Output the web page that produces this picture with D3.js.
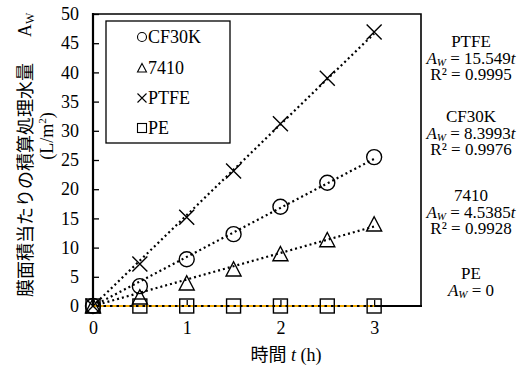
<!DOCTYPE html>
<html>
<head>
<meta charset="utf-8">
<script src="https://cdn.jsdelivr.net/npm/d3@7"></script>
<style>
  body { margin: 0; background: #fff; }
  svg { display: block; }
  .serif { font-family: "Liberation Serif", "DejaVu Serif", serif; }
  .jp { font-family: "Noto Sans CJK JP", sans-serif; }
</style>
</head>
<body>
<svg id="chart" width="525" height="367"></svg>
<script>
// time (h)
var hours = [0, 0.5, 1, 1.5, 2, 2.5, 3];
// cumulative treated water per membrane area (L/m2)
var cf30k = [0, 3.4, 8.0, 12.3, 17.0, 21.1, 25.5];
var s7410 = [0, 1.5, 3.9, 6.3, 8.9, 11.3, 14.0];
var ptfe  = [0, 7.2, 15.2, 23.1, 31.2, 39.0, 46.9];
var pe    = [0, 0, 0, 0, 0, 0, 0];
// fitted slopes (A_W = k t)
var slopes = { CF30K: 8.3993, '7410': 4.5385, PTFE: 15.549, PE: 0 };
var rSquared = { CF30K: '0.9976', '7410': '0.9928', PTFE: '0.9995' };
var yTicks = [0, 5, 10, 15, 20, 25, 30, 35, 40, 45, 50];
var xTicks = [0, 1, 2, 3];

var series = [
  { name: 'CF30K', values: cf30k, shape: 'circle' },
  { name: '7410', values: s7410, shape: 'triangle' },
  { name: 'PTFE', values: ptfe, shape: 'cross' },
  { name: 'PE', values: pe, shape: 'square' }
];

var svg = d3.select('#chart');
var pL = 93, pR = 421, pT = 14, pB = 306;

var x = d3.scaleLinear().domain([0, 3.5]).range([pL, pR]);
var y = d3.scaleLinear().domain([0, 50]).range([pB, pT]);

// frame (top & right)
svg.append('path')
  .attr('d', 'M' + pL + ',' + pT + 'H' + pR + 'V' + pB)
  .attr('fill', 'none').attr('stroke', '#000').attr('stroke-width', 1.6);

// y axis
var gy = svg.append('g').attr('transform', 'translate(' + pL + ',0)')
  .call(d3.axisLeft(y).tickValues(yTicks).tickSize(-6).tickPadding(14).tickFormat(d3.format('d')));
gy.select('.domain').remove();
gy.selectAll('line').attr('stroke', '#000').attr('stroke-width', 1.3);
gy.selectAll('text').attr('class', 'serif').attr('font-size', 18).attr('fill', '#000');

// x axis
var gx = svg.append('g').attr('transform', 'translate(0,' + pB + ')')
  .call(d3.axisBottom(x).tickValues(xTicks).tickSize(-6).tickPadding(15).tickFormat(d3.format('d')));
gx.select('.domain').remove();
gx.selectAll('line').attr('stroke', '#000').attr('stroke-width', 1.3);
gx.selectAll('text').attr('class', 'serif').attr('font-size', 18).attr('fill', '#000');

// axis lines
svg.append('line').attr('x1', pL).attr('x2', pL).attr('y1', pT - 1).attr('y2', pB + 1)
  .attr('stroke', '#000').attr('stroke-width', 2.2);
svg.append('line').attr('x1', pL).attr('x2', pR + 1).attr('y1', pB).attr('y2', pB)
  .attr('stroke', '#000').attr('stroke-width', 2.2);

// trend lines
var tEnd = hours[hours.length - 1];
series.forEach(function(s){
  var k = slopes[s.name];
  var isPE = s.name === 'PE';
  svg.append('line')
    .attr('x1', x(0)).attr('y1', y(0))
    .attr('x2', x(tEnd)).attr('y2', y(k * tEnd))
    .attr('stroke', isPE ? '#F2A900' : '#000')
    .attr('stroke-width', isPE ? 2 : 2.2)
    .attr('stroke-dasharray', isPE ? '4,2.5' : '2,3');
});

// markers
function addMarker(g, shape, cx, cy, sz){
  var h = sz / 2;
  var p;
  if(shape === 'circle'){
    p = g.append('circle').attr('cx', cx).attr('cy', cy).attr('r', h);
  } else if(shape === 'triangle'){
    p = g.append('path').attr('d', 'M' + cx + ',' + (cy - h) + 'L' + (cx + h) + ',' + (cy + h * 0.9) + 'L' + (cx - h) + ',' + (cy + h * 0.9) + 'Z');
  } else if(shape === 'cross'){
    p = g.append('path').attr('d', 'M' + (cx - h) + ',' + (cy - h) + 'L' + (cx + h) + ',' + (cy + h) + 'M' + (cx + h) + ',' + (cy - h) + 'L' + (cx - h) + ',' + (cy + h));
  } else {
    p = g.append('rect').attr('x', cx - h).attr('y', cy - h).attr('width', sz).attr('height', sz);
  }
  p.attr('fill', 'none').attr('stroke', '#000');
  return p;
}

var gm = svg.append('g');
series.forEach(function(s){
  s.values.forEach(function(v, i){
    addMarker(gm, s.shape, x(hours[i]), y(v), s.shape === 'square' ? 14 : 15).attr('stroke-width', 1.4);
  });
});

// legend
var lg = svg.append('g');
lg.append('rect').attr('x', 106).attr('y', 21).attr('width', 124).attr('height', 122)
  .attr('fill', '#fff').attr('stroke', '#000').attr('stroke-width', 1.3);
var legendY = [37, 68, 98, 128];
series.forEach(function(s, i){
  addMarker(lg, s.shape, 142, legendY[i], 9).attr('stroke-width', 1.1);
  lg.append('text').attr('class', 'serif').attr('x', 148).attr('y', legendY[i] + 6)
    .attr('font-size', 18).text(s.name);
});

// fitted equations at right
var notes = [
  { name: 'PTFE', y: 47 },
  { name: 'CF30K', y: 122 },
  { name: '7410', y: 201 },
  { name: 'PE', y: 279 }
];
var cxNote = 471;
notes.forEach(function(n){
  var g = svg.append('g').attr('class', 'serif').attr('font-size', 17).attr('text-anchor', 'middle');
  g.append('text').attr('x', cxNote).attr('y', n.y).text(n.name);
  var eq = g.append('text').attr('x', cxNote).attr('y', n.y + 17);
  eq.append('tspan').attr('font-style', 'italic').text('A');
  eq.append('tspan').attr('font-style', 'italic').attr('font-size', 11).attr('dy', 2).text('W');
  eq.append('tspan').attr('dy', -2).text(' = ' + (slopes[n.name] === 0 ? '0' : slopes[n.name]));
  if(slopes[n.name] !== 0){
    eq.append('tspan').attr('font-style', 'italic').text('t');
    g.append('text').attr('x', cxNote).attr('y', n.y + 33).text('R² = ' + rSquared[n.name]);
  }
});

// y axis title
svg.append('text').attr('class', 'jp').attr('transform', 'translate(32,297) rotate(-90)')
  .attr('font-size', 18).text('膜面積当たりの積算処理水量');
var ytA = svg.append('text').attr('class', 'serif').attr('transform', 'translate(31,37) rotate(-90)')
  .attr('font-size', 18);
ytA.append('tspan').text('A');
ytA.append('tspan').attr('font-size', 12).attr('dy', 3).text('W');

var yt2 = svg.append('text').attr('transform', 'translate(53,136) rotate(-90)')
  .attr('class', 'serif').attr('font-size', 18).attr('text-anchor', 'middle');
yt2.append('tspan').text('(L/m');
yt2.append('tspan').attr('font-size', 11).attr('dy', -7).text('2');
yt2.append('tspan').attr('dy', 7).text(')');

// x axis title
var xt = svg.append('text').attr('x', 286).attr('y', 361).attr('text-anchor', 'middle').attr('font-size', 18);
xt.append('tspan').attr('class', 'jp').text('時間');
xt.append('tspan').attr('class', 'serif').attr('font-style', 'italic').text(' t');
xt.append('tspan').attr('class', 'serif').text(' (h)');
</script>
</body>
</html>
